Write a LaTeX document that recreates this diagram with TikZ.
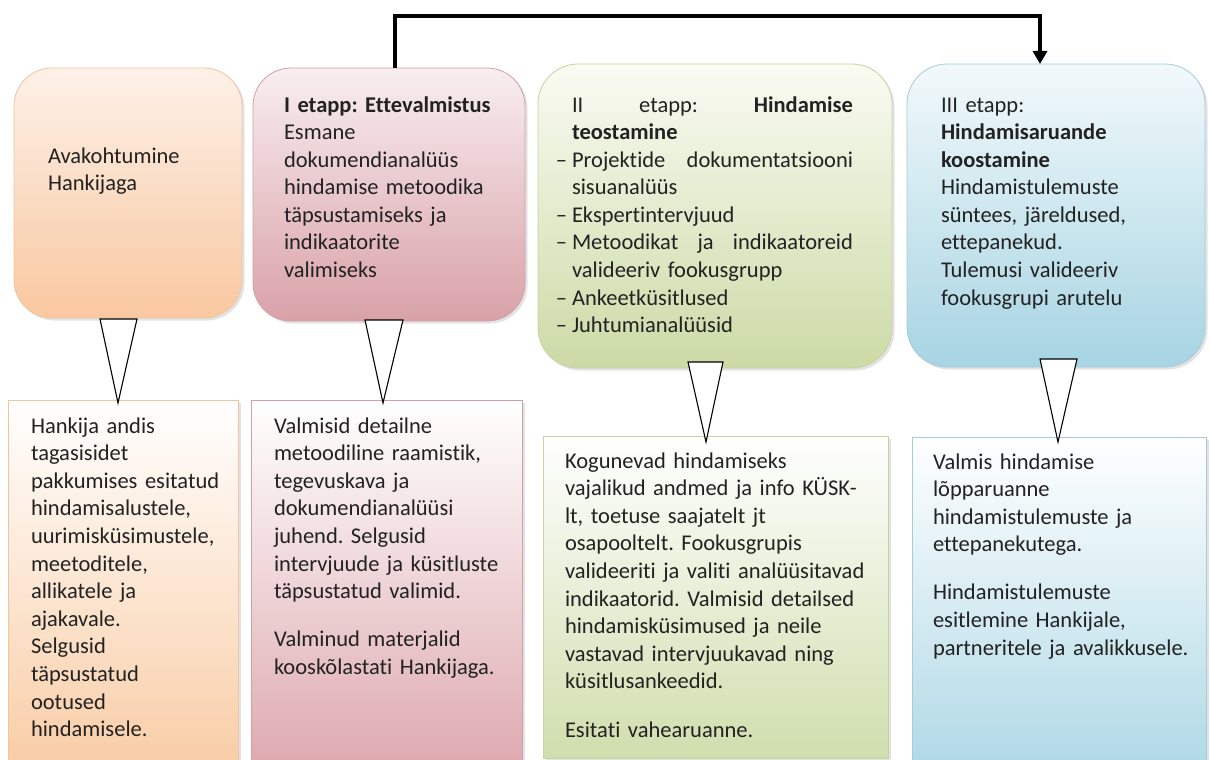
\documentclass[tikz,border=0pt]{standalone}
\usepackage{fontspec}
\setmainfont{Carlito}[Ligatures=NoCommon]
\usetikzlibrary{arrows.meta,shadows}
\definecolor{txtcol}{HTML}{222222}
\definecolor{aTop}{HTML}{FDF1E8}\definecolor{aBot}{HTML}{F9C8A0}\definecolor{aLine}{HTML}{F0C4A0}
\definecolor{bTop}{HTML}{F8EEF0}\definecolor{bBot}{HTML}{D9A1A8}\definecolor{bLine}{HTML}{D0A0A8}
\definecolor{cTop}{HTML}{FAFBF3}\definecolor{cBot}{HTML}{CCDAA6}\definecolor{cLine}{HTML}{C6D3A2}
\definecolor{dTop}{HTML}{F2F9FB}\definecolor{dBot}{HTML}{A7D4E3}\definecolor{dLine}{HTML}{A6CCDB}
\definecolor{aBotL}{HTML}{F9CEA8}\definecolor{bBotL}{HTML}{DEABB1}
\definecolor{cBotL}{HTML}{D0DEAD}\definecolor{dBotL}{HTML}{B2DAE7}
\newcommand{\dashitem}[1]{\leavevmode\hbox{\llap{–\hspace{5pt}}#1}}
\begin{document}
\begin{tikzpicture}[x=1pt,y=-1pt,
  stagebox/.style={draw, rounded corners=38pt, inner sep=0pt, outer sep=0pt, line width=0.8pt,
    drop shadow={shadow xshift=2.5pt, shadow yshift=-2.5pt, opacity=0.22}},
  lowbox/.style={draw, inner sep=0pt, outer sep=0pt, line width=0.8pt,
    drop shadow={shadow xshift=2.5pt, shadow yshift=-2.5pt, opacity=0.22}},
  txt/.style={anchor=base west, inner sep=0pt, outer sep=0pt, align=left, text width=#1,
    font=\fontsize{22.5}{27.6}\selectfont\frenchspacing, text=txtcol},
  pointer/.style={draw=black, fill=white, line width=1.1pt, line join=miter},
  flow/.style={line width=4pt, -{Triangle[length=13pt,width=14pt]}}
]
\useasboundingbox (0,0) rectangle (1210,760);
\fill[white] (0,0) rectangle (1210,760);

% top stage boxes
\node[stagebox, draw=aLine, top color=aTop, bottom color=aBot, minimum width=228pt, minimum height=250pt] (A) at (128,193) {};
\node[stagebox, draw=bLine, top color=bTop, bottom color=bBot, minimum width=272pt, minimum height=253pt] (B) at (389,194.5) {};
\node[stagebox, rounded corners=40pt, draw=cLine, top color=cTop, bottom color=cBot, minimum width=354pt, minimum height=304pt] (C) at (715,216) {};
\node[stagebox, rounded corners=40pt, draw=dLine, top color=dTop, bottom color=dBot, minimum width=298pt, minimum height=303pt] (D) at (1056,215.5) {};

% lower result boxes
\node[lowbox, draw=aLine, top color=white, bottom color=aBotL, minimum width=230pt, minimum height=360pt] (A2) at (123,580) {};
\node[lowbox, draw=bLine, top color=white, bottom color=bBotL, minimum width=271pt, minimum height=360pt] (B2) at (386.5,580) {};
\node[lowbox, draw=cLine, top color=white, bottom color=cBotL, minimum width=345pt, minimum height=322pt] (C2) at (715.5,597) {};
\node[lowbox, draw=dLine, top color=white, bottom color=dBotL, minimum width=294pt, minimum height=323pt] (D2) at (1059,598.5) {};

% callout pointers
\draw[pointer] (100,319) -- (137,319) -- (118,403) -- cycle;
\draw[pointer] (365,320) -- (403,320) -- (383,403) -- cycle;
\draw[pointer] (688,362) -- (723,362) -- (706,442) -- cycle;
\draw[pointer] (1040,359) -- (1077,359) -- (1058,442) -- cycle;

% top connector
\coordinate (t1) at (395,16);
\coordinate (t2) at (1040,16);
\draw[flow] (B.north -| t1) -- (t1) -- (t2) -- (D.north -| t2);

% texts in stage boxes
\node[txt=180pt] (tA) at (48,163) {Avakohtumine\\Hankijaga};
\node[txt=235pt] (tB) at (284,112) {\textbf{I etapp: Ettevalmistus}\\Esmane\\dokumendianalüüs\\hindamise metoodika\\täpsustamiseks ja\\indikaatorite\\valimiseks};
\node[txt=290pt] (tC) at (572,112) {\makebox[281pt]{II\hfill etapp:\hfill\textbf{Hindamise}}\\
\textbf{teostamine}\\
\dashitem{\makebox[281pt]{Projektide\hfill dokumentatsiooni}}\\
sisuanalüüs\\
\dashitem{Ekspertintervjuud}\\
\dashitem{\makebox[281pt]{Metoodikat\hfill ja\hfill indikaatoreid}}\\
valideeriv fookusgrupp\\
\dashitem{Ankeetküsitlused}\\
\dashitem{Juhtumianalüüsid}};
\node[txt=250pt] (tD) at (941,112) {III etapp:\\\textbf{Hindamisaruande}\\\textbf{koostamine}\\Hindamistulemuste\\süntees, järeldused,\\ettepanekud.\\Tulemusi valideeriv\\fookusgrupi arutelu};

% texts in result boxes
\node[txt=205pt] (tA2) at (31,433) {Hankija andis\\tagasisidet\\pakkumises esitatud\\hindamisalustele,\\uurimisküsimustele,\\meetoditele,\\allikatele ja\\ajakavale.\\Selgusid\\täpsustatud\\ootused\\hindamisele.};
\node[txt=245pt] (tB2) at (274,433) {Valmisid detailne\\metoodiline raamistik,\\tegevuskava ja\\dokumendianalüüsi\\juhend. Selgusid\\intervjuude ja küsitluste\\täpsustatud valimid.\\[20.5pt]Valminud materjalid\\kooskõlastati Hankijaga.};
\node[txt=320pt] (tC2) at (565,468) {Kogunevad hindamiseks\\vajalikud andmed ja info KÜSK-\\lt, toetuse saajatelt jt\\osapooltelt. Fookusgrupis\\\makebox[295pt][s]{valideeriti ja valiti analüüsitavad}\\indikaatorid. Valmisid detailsed\\hindamisküsimused ja neile\\vastavad intervjuukavad ning\\küsitlusankeedid.\\[21pt]Esitati vahearuanne.};
\node[txt=270pt] (tD2) at (933,469) {Valmis hindamise\\lõpparuanne\\hindamistulemuste ja\\ettepanekutega.\\[20.5pt]Hindamistulemuste\\esitlemine Hankijale,\\partneritele ja avalikkusele.};
\end{tikzpicture}
\end{document}
